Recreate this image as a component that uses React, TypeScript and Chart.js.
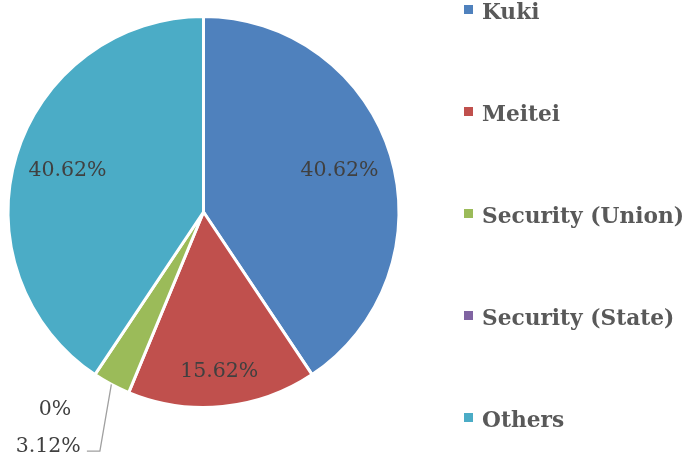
import React, { useEffect, useRef } from "react";
import { Chart, registerables } from "chart.js";

Chart.register(...registerables);

const categories = ["Kuki", "Meitei", "Security (Union)", "Security (State)", "Others"];
const percentValues = [40.62, 15.62, 3.12, 0, 40.62];
const colors = ["#4F81BD", "#C0504D", "#9BBB59", "#8064A2", "#4BACC6"];

const labelFont = "20.5px 'DejaVu Serif'";
const legendFont = "bold 21.7px 'DejaVu Serif'";

const overlayPlugin = {
  id: "overlay",
  afterDraw(chart: any) {
    const ctx = chart.ctx as CanvasRenderingContext2D;
    const meta = chart.getDatasetMeta(0);
    const data = chart.data.datasets[0].data as number[];
    const labels = chart.data.labels as string[];
    const bg = chart.data.datasets[0].backgroundColor as string[];
    const first = meta.data[0] as any;
    const cx = first.x;
    const cy = first.y;
    const R = first.outerRadius;

    ctx.save();
    ctx.font = labelFont;
    ctx.textAlign = "center";
    ctx.textBaseline = "middle";
    const fracs: Record<number, number> = { 0: 0.727, 1: 0.823, 4: 0.727 };
    meta.data.forEach((arc: any, i: number) => {
      const text = `${data[i]}%`;
      if (fracs[i] !== undefined) {
        const mid = (arc.startAngle + arc.endAngle) / 2;
        const x = cx + Math.cos(mid) * R * fracs[i];
        const y = cy + Math.sin(mid) * R * fracs[i];
        ctx.fillStyle = "#404040";
        ctx.fillText(text, x, y);
      }
    });
    // outside labels (small slices)
    const union = meta.data[2] as any;
    const uMid = (union.startAngle + union.endAngle) / 2;
    const sx = cx + Math.cos(uMid) * R;
    const sy = cy + Math.sin(uMid) * R;
    const ex = cx - 0.53 * R;
    const ey = cy + 1.223 * R;
    ctx.strokeStyle = "#A0A0A0";
    ctx.lineWidth = 1.3;
    ctx.beginPath();
    ctx.moveTo(sx, sy);
    ctx.lineTo(ex, ey);
    ctx.lineTo(ex - 13, ey);
    ctx.stroke();
    ctx.fillStyle = "#404040";
    ctx.fillText(`${data[2]}%`, cx - 0.794 * R, cy + 1.198 * R);
    ctx.fillText(`${data[3]}%`, cx - 0.76 * R, cy + 1.013 * R);

    // legend
    ctx.textAlign = "left";
    ctx.textBaseline = "alphabetic";
    ctx.font = legendFont;
    labels.forEach((lab, i) => {
      const base = 19 + 102 * i;
      ctx.fillStyle = bg[i];
      ctx.fillRect(464, base - 14, 9, 9);
      ctx.fillStyle = "#595959";
      ctx.fillText(lab, 482, base);
    });
    ctx.restore();
  },
};

export default function App() {
  const ref = useRef<HTMLCanvasElement | null>(null);
  useEffect(() => {
    document.body.style.margin = "0";
    const canvas = ref.current!;
    const chart = new Chart(canvas, {
      type: "pie",
      data: {
        labels: categories,
        datasets: [
          {
            data: percentValues,
            backgroundColor: colors,
            borderColor: "#FFFFFF",
            borderWidth: 3,
          },
        ],
      },
      options: {
        responsive: false,
        animation: false,
        layout: { padding: { left: 6, top: 15, right: 284, bottom: 52 } },
        plugins: {
          legend: { display: false },
          tooltip: { enabled: false },
        },
      },
      plugins: [overlayPlugin],
    });
    return () => chart.destroy();
  }, []);
  return (
    <div style={{ width: 685, height: 461 }}>
      <canvas ref={ref} width={685} height={461} style={{ display: "block" }} />
    </div>
  );
}
